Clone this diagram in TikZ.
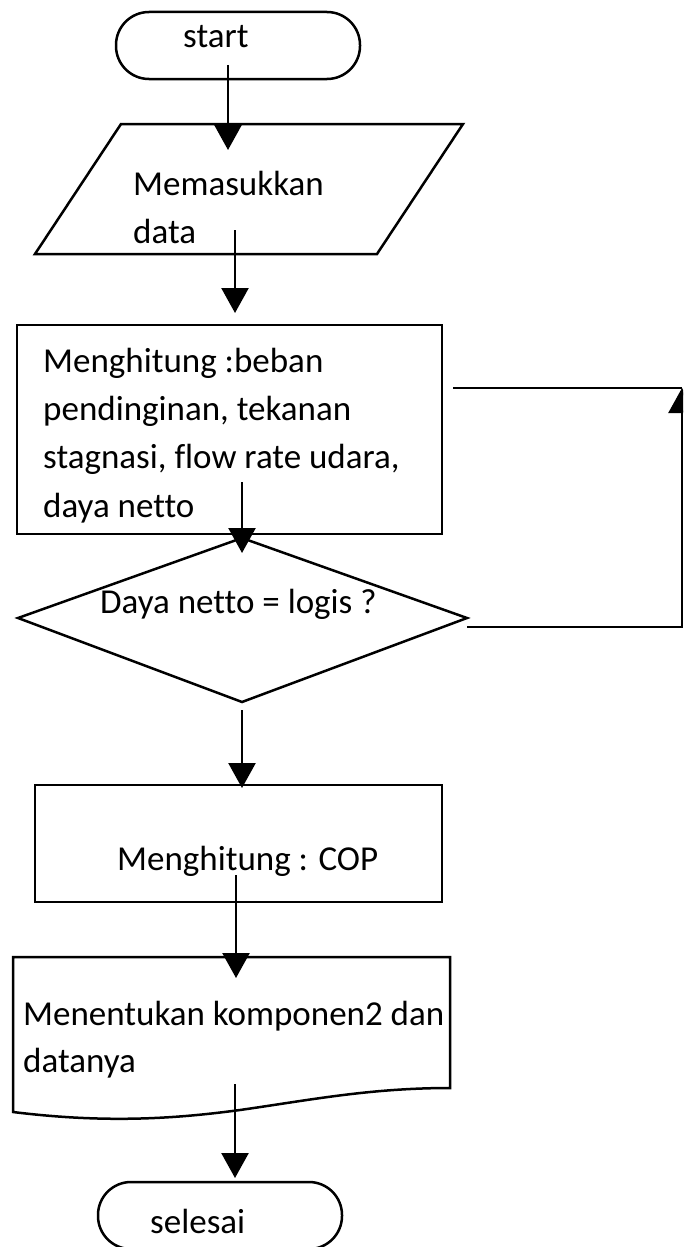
\documentclass[tikz,border=0pt]{standalone}
\usepackage{fontspec}
\setmainfont{Carlito}[Ligatures=NoCommon]
\usetikzlibrary{arrows.meta}
\tikzset{
  shp/.style={draw=black, line width=2.5pt, line join=miter},
  box/.style={draw=black, line width=2.5pt, inner sep=0pt},
  term/.style={box, rounded corners=33pt, minimum width=244pt, minimum height=67pt},
  lbl/.style={font=\fontsize{35pt}{42pt}\selectfont, anchor=base west, inner sep=0pt, text=black},
  conn/.style={line width=2.5pt, -{Triangle[length=25pt,width=27pt]}},
  plain/.style={line width=2.5pt}
}
\begin{document}
\begin{tikzpicture}[x=1pt,y=-1pt]
\useasboundingbox (0,0) rectangle (683,1247);
\clip (0,0) rectangle (683,1247);
\fill[white] (0,0) rectangle (683,1247);

% start
\node[term] (start) at (238,45.5) {};
\node[lbl] (starttxt) at (183,48) {start};

% input parallelogram
\coordinate (pA) at (121,124);
\coordinate (pB) at (463,124);
\coordinate (pC) at (377,254);
\coordinate (pD) at (35,254);
\draw[shp] (pA) -- (pB) -- (pC) -- (pD) -- cycle;
\node[lbl] (in1) at (133,195) {Memasukkan};
\node[lbl] (in2) at (133,243) {data};

% process 1
\node[box, minimum width=425pt, minimum height=209pt] (proc1) at (229.5,429.5) {};
\node[lbl] (p1a) at (43,372) {Menghitung :beban};
\node[lbl] (p1b) at (43,420) {pendinginan, tekanan};
\node[lbl] (p1c) at (43,468) {stagnasi, flow rate udara,};
\node[lbl] (p1d) at (43,517) {daya netto};

% decision
\coordinate (dT) at (242,538);
\coordinate (dRv) at (467,618);
\coordinate (dB) at (242,702);
\coordinate (dL) at (18,618);
\draw[shp] (dT) -- (dRv) -- (dB) -- (dL) -- cycle;
\node[lbl] (dtxt) at (100,613) {Daya netto = logis ?};

% process 2
\node[box, minimum width=407pt, minimum height=117pt] (proc2) at (238.5,843.5) {};
\node[lbl] (p2) at (117,870) {Menghitung : COP};

% document
\draw[shp] (13,957) -- (450,957) -- (450,1088)
  .. controls (370,1088) and (310,1100) .. (240,1110)
  .. controls (180,1118) and (110,1124) .. (13,1112) -- cycle;
\node[lbl] (doc1) at (23,1025) {Menentukan komponen2 dan};
\node[lbl] (doc2) at (23,1072) {datanya};

% end
\node[term] (stop) at (220,1215.5) {};
\node[lbl] (stoptxt) at (150,1233) {selesai};

% connectors
\coordinate (a1s) at (228,65);   \coordinate (a1e) at (228,150);
\coordinate (a2s) at (235,230);  \coordinate (a2e) at (235,313);
\coordinate (a3s) at (242,482);  \coordinate (a3e) at (242,553);
\coordinate (a4s) at (242,710);  \coordinate (a4e) at (242,788);
\coordinate (a5s) at (236,875);  \coordinate (a5e) at (236,978);
\coordinate (a6s) at (235,1084); \coordinate (a6e) at (235,1178);
\draw[conn] (a1s) -- (a1e);
\draw[conn] (a2s) -- (a2e);
\draw[conn] (a3s) -- (a3e);
\draw[conn] (a4s) -- (a4e);
\draw[conn] (a5s) -- (a5e);
\draw[conn] (a6s) -- (a6e);

% loop back
\coordinate (dR) at (467,627);
\coordinate (loopTop) at (682,388);
\coordinate (backL) at (453,388);
\draw[conn] (dR) -| (loopTop);
\draw[plain] (backL) -- (loopTop);
\end{tikzpicture}
\end{document}
